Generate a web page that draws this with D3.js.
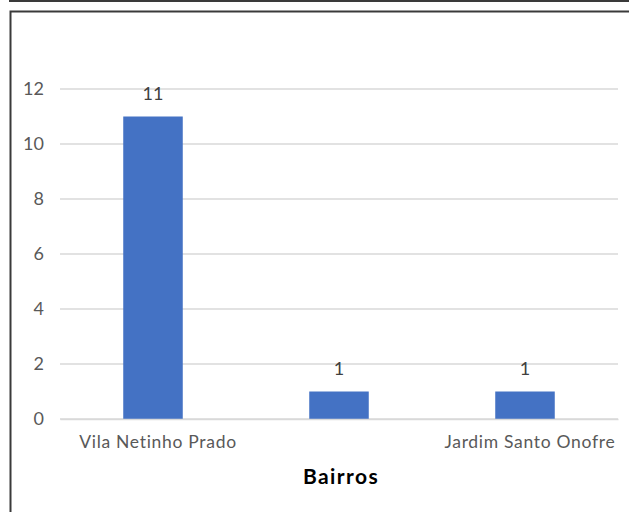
<!DOCTYPE html>
<html><head><meta charset="utf-8">
<script src="https://cdn.jsdelivr.net/npm/d3@7"></script>
<style>body{margin:0;background:#fff}svg{display:block}</style>
</head><body><div id="c"></div>
<script>
const categories = ["Vila Netinho Prado", "Bairro 2", "Jardim Santo Onofre"];
const values = [11, 1, 1];
const yTicks = [0, 2, 4, 6, 8, 10, 12];
const shownLabels = ["Vila Netinho Prado", "Jardim Santo Onofre"];
const xTitle = "Bairros";

const W = 629, H = 512;
const svg = d3.select("#c").append("svg").attr("width", W).attr("height", H);
const font = "Lato, 'Open Sans', sans-serif";
const fs = 17.5;

// frames
svg.append("path").attr("d", "M10,-5 V1 H640").attr("fill", "none").attr("stroke", "#3a3a3a").attr("stroke-width", 2);
svg.append("rect").attr("x", 10.5).attr("y", 11.5).attr("width", 640).attr("height", 520)
  .attr("fill", "none").attr("stroke", "#3a3a3a").attr("stroke-width", 2);

const x = d3.scaleBand().domain(categories).range([60, 618]).paddingInner(0.68).paddingOuter(0.34);
const y = d3.scaleLinear().domain([0, 12]).range([419, 89]);

// gridlines
svg.append("g").selectAll("line").data(yTicks).join("line")
  .attr("x1", 60).attr("x2", 618).attr("y1", d => y(d)).attr("y2", d => y(d))
  .attr("stroke", "#d9d9d9").attr("stroke-width", 1.3);

// y axis
const ya = svg.append("g").attr("transform", "translate(60,0)")
  .call(d3.axisLeft(y).tickValues(yTicks).tickSize(0).tickPadding(16));
ya.select(".domain").remove();
ya.selectAll("text").attr("font-family", font).attr("font-size", fs + 0.5).attr("fill", "#595959");

// bars
svg.append("g").selectAll("rect").data(values).join("rect")
  .attr("x", (d, i) => x(categories[i])).attr("width", x.bandwidth())
  .attr("y", d => y(d)).attr("height", d => y(0) - y(d)).attr("fill", "#4472c4");

// data labels
svg.append("g").selectAll("text").data(values).join("text")
  .attr("x", (d, i) => x(categories[i]) + x.bandwidth() / 2)
  .attr("y", d => y(d) - 16.5).attr("text-anchor", "middle")
  .attr("font-family", font).attr("font-size", fs + 0.5).attr("fill", "#404040").text(d => d);

// x axis
const xa = svg.append("g").attr("transform", "translate(0,419)")
  .call(d3.axisBottom(x).tickValues(shownLabels).tickSize(0).tickPadding(17));
xa.select(".domain").attr("stroke", "#d9d9d9").attr("stroke-width", 1.3);
xa.selectAll("text").attr("font-family", font).attr("font-size", fs).attr("fill", "#595959")
  .attr("letter-spacing", "0.7px").attr("dx", 5);

svg.append("text").attr("x", 341).attr("y", 484).attr("text-anchor", "middle")
  .attr("font-family", font).attr("font-weight", "bold").attr("font-size", 21).attr("letter-spacing", "1.4px")
  .attr("fill", "#000").text(xTitle);
</script></body></html>
